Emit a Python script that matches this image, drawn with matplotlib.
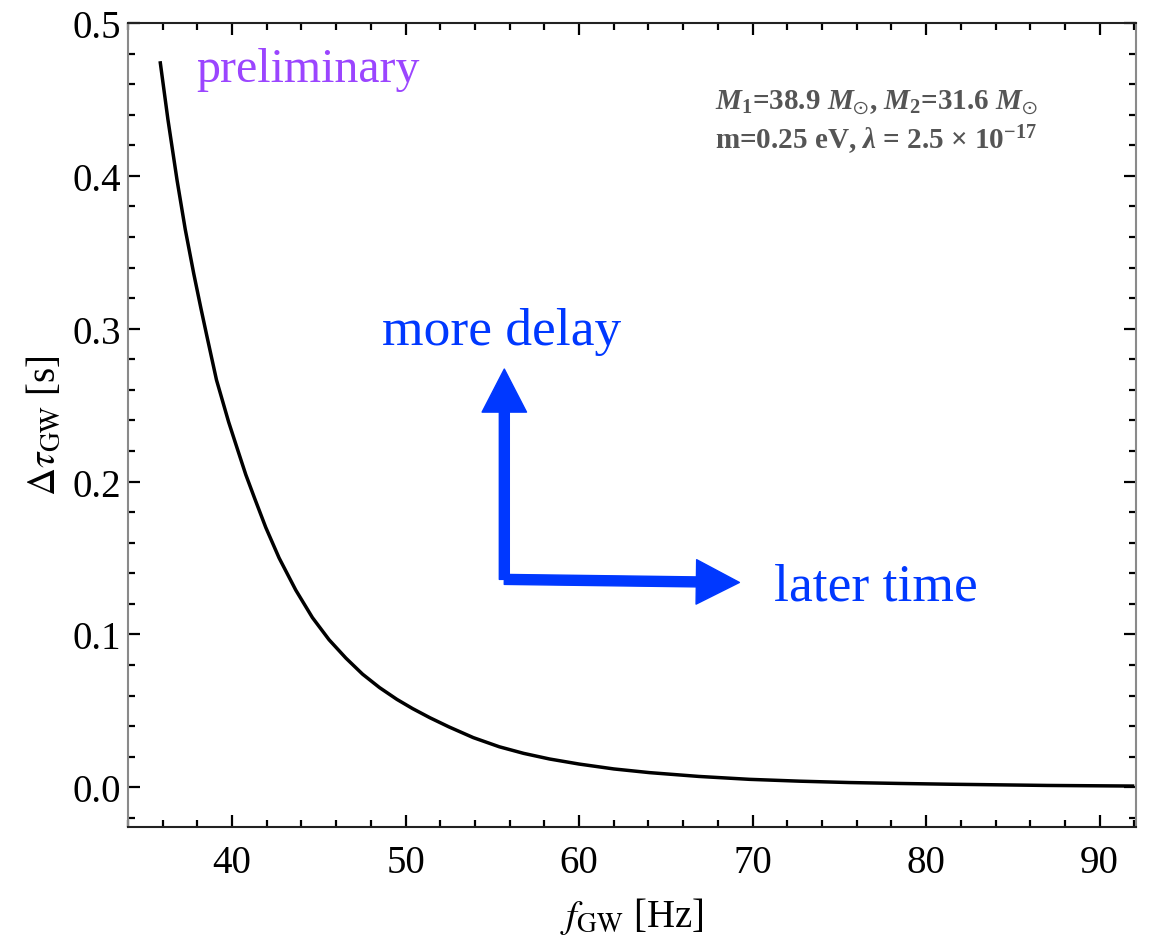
import matplotlib
matplotlib.use("Agg")
import matplotlib.pyplot as plt
from matplotlib.ticker import MultipleLocator

plt.rcParams['mathtext.fontset'] = 'stix'
plt.rcParams['mathtext.fallback'] = 'stix'
plt.rcParams['mathtext.rm'] = 'Liberation Serif:bold'
plt.rcParams['mathtext.it'] = 'Liberation Serif:bold:italic'
plt.rcParams['mathtext.bf'] = 'Liberation Serif:bold'
plt.rcParams['font.family'] = ['Liberation Serif', 'DejaVu Serif']

# Data
f_gw = [35.85, 36.3, 36.83, 37.3, 37.79, 38.2, 38.56, 39.1, 39.8, 40.3, 40.79, 41.3,
        41.94, 42.71, 43.67, 44.63, 45.59, 46.56, 47.52, 48.5, 49.5, 50.4, 51.4,
        52.5, 53.9, 55.4, 56.8, 58.3, 60.0, 62.0, 64.05, 66.9, 69.82, 72.7, 75.58,
        78.5, 81.35, 84.2, 87.0, 89.5, 92.0]
dtau = [0.475, 0.437, 0.397, 0.365, 0.336, 0.3135, 0.2945, 0.2665, 0.239, 0.2215, 0.2045, 0.189,
        0.170, 0.150, 0.129, 0.111, 0.0965, 0.0845, 0.074, 0.0652, 0.0575, 0.0515, 0.0455,
        0.0395, 0.0325, 0.0265, 0.0222, 0.0185, 0.0152, 0.0120, 0.0096, 0.0071, 0.0052, 0.0040, 0.0031,
        0.0025, 0.0020, 0.0016, 0.0012, 0.0010, 0.0008]

x_ticks = [40, 50, 60, 70, 80, 90]
y_ticks = [0.0, 0.1, 0.2, 0.3, 0.4, 0.5]

fig = plt.figure(figsize=(11.51, 9.37), dpi=100)
ax = fig.add_axes([0.1112, 0.1163, 0.987 - 0.1112, 0.9744 - 0.1163])

ax.plot(f_gw, dtau, color='black', lw=2.5, solid_capstyle='butt', solid_joinstyle='round')

ax.set_xlim(34.0, 92.1)
ax.set_ylim(-0.026, 0.5)
ax.set_xticks(x_ticks)
ax.set_yticks(y_ticks)
ax.set_yticklabels([f"{v:.1f}" for v in y_ticks])
ax.xaxis.set_minor_locator(MultipleLocator(2))
ax.yaxis.set_minor_locator(MultipleLocator(0.02))
ax.tick_params(which='both', direction='in', top=True, right=True, width=1.6, colors='black',
               labelsize=28)
ax.tick_params(axis='x', which='both', pad=12)
ax.tick_params(axis='y', which='both', pad=5)
ax.tick_params(which='major', length=8.5)
ax.tick_params(which='minor', length=5)
for s in ['left', 'right']:
    ax.spines[s].set_color('#8a8a8a')
for s in ['top', 'bottom']:
    ax.spines[s].set_color('#222222')
for s in ax.spines.values():
    s.set_linewidth(1.5)

ax.set_xlabel(r'$f_{\mathrm{GW}}$ [Hz]', fontsize=28, labelpad=10)
ax.set_ylabel(r'$\Delta\tau_{\mathrm{GW}}$ [s]', fontsize=28, labelpad=6)
ax.xaxis.label.set_math_fontfamily('stix')
ax.yaxis.label.set_math_fontfamily('stix')

ax.text(37.92, 0.462, 'preliminary', color='#9B45FF', fontsize=34.5, ha='left', va='baseline')
ax.text(48.65, 0.290, 'more delay', color='#0038FF', fontsize=38.5, ha='left', va='baseline')
ax.text(71.26, 0.123, 'later time', color='#0038FF', fontsize=38.5, ha='left', va='baseline')

ax.text(77.14, 0.4440, r'$M_1$=38.9 $M_{\odot}$, $M_2$=31.6 $M_{\odot}$',
        color='#555555', fontsize=21, fontweight='bold', ha='center', va='baseline',
        math_fontfamily='custom')
ax.text(77.14, 0.4180, r'm=0.25 eV, $\lambda$ = 2.5 $\times$ 10$^{-17}$',
        color='#555555', fontsize=21, fontweight='bold', ha='center', va='baseline',
        math_fontfamily='custom')

blue = '#0038FF'
origin = (55.69, 0.136)
style = 'simple,head_width=1.6,head_length=1.55,tail_width=0.36'
ax.annotate('', xy=(55.69, 0.2736), xytext=origin,
            arrowprops=dict(arrowstyle=style, color=blue, mutation_scale=20, shrinkA=0, shrinkB=0))
ax.annotate('', xy=(69.24, 0.134), xytext=origin,
            arrowprops=dict(arrowstyle=style, color=blue, mutation_scale=20, shrinkA=0, shrinkB=0))

fig.savefig('out.png', dpi=100)
